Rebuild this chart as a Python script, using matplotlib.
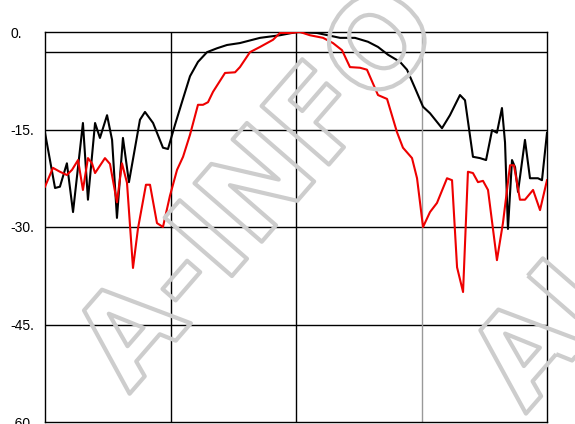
import matplotlib
matplotlib.use("Agg")

import matplotlib.pyplot as plt
import matplotlib.patheffects as pe

# angle (deg) / level (dB)
black_ang = [-180, -172.8, -169.3, -164.3, -159.9, -152.8, -149.2, -144.1, -140.6, -135.5,
             -131.9, -128.4, -124.1, -119.8, -111.9, -108.3, -102.5, -95.4, -91.8, -86.8,
             -81.8, -76.0, -70.3, -63.8, -56.6, -49.5, -40.2, -25.8, -11.5, 0.7,
             15.1, 31.6, 42.3, 51.6, 58.8, 66.0, 74.6, 79.6, 85.3, 91.1,
             96.1, 104.7, 110.4, 117.6, 121.2, 126.9, 131.9, 136.3, 140.6, 144.1,
             147.7, 149.9, 152.0, 154.9, 157.1, 159.2, 164.2, 167.8, 173.5, 176.4, 180]
black_db = [-15.5, -24.0, -23.8, -20.2, -27.7, -14.0, -25.8, -14.0, -16.3, -12.8,
            -16.6, -28.6, -16.3, -23.1, -13.5, -12.3, -14.0, -17.8, -18.0, -14.3,
            -10.8, -6.8, -4.6, -3.1, -2.5, -2.0, -1.7, -0.9, -0.5, 0.0,
            -0.15, -0.9, -0.9, -1.5, -2.3, -3.5, -4.6, -5.8, -8.6, -11.5,
            -12.5, -14.8, -12.8, -9.7, -10.5, -19.2, -19.4, -19.7, -15.1, -15.5,
            -11.7, -17.0, -30.3, -19.7, -20.8, -24.6, -16.6, -22.5, -22.5, -22.8, -15.5]

red_ang = [-180, -174.3, -169.3, -164.3, -160.6, -156.3, -152.8, -149.2, -146.3, -144.1,
           -137.0, -133.4, -128.4, -124.8, -121.2, -116.9, -113.3, -107.6, -104.7, -99.7,
           -95.4, -90.4, -85.3, -81.0, -76.0, -70.3, -66.7, -63.1, -59.5, -50.9,
           -43.7, -40.2, -33.0, -25.8, -16.5, -11.5, -4.3, 2.9, 10.0, 19.4,
           26.5, 33.0, 38.7, 45.9, 50.9, 58.8, 65.3, 72.4, 76.7, 83.2,
           86.8, 91.1, 96.1, 101.1, 108.3, 111.9, 115.5, 119.8, 123.3, 126.9,
           130.5, 134.1, 137.7, 144.1, 148.4, 153.5, 156.3, 160.6, 164.2, 170.0, 175.0, 180]
red_db = [-23.8, -20.9, -21.5, -22.0, -21.2, -19.7, -24.3, -19.4, -20.2, -21.7,
          -19.4, -20.3, -26.2, -20.2, -23.2, -36.3, -30.2, -23.5, -23.5, -29.4,
          -30.0, -25.2, -21.2, -19.2, -15.8, -11.2, -11.2, -10.8, -9.2, -6.3,
          -6.2, -5.4, -3.1, -2.3, -1.2, -0.15, -0.15, 0.0, -0.5, -0.9,
          -1.7, -2.8, -5.4, -5.5, -5.8, -9.7, -10.3, -15.4, -17.8, -19.4,
          -22.5, -30.0, -27.7, -26.3, -22.5, -22.8, -36.2, -40.0, -21.5, -21.7,
          -23.1, -22.9, -24.3, -35.1, -29.4, -20.5, -20.5, -25.8, -25.8, -24.3, -27.4, -22.8]

y_ticks = [0, -15, -30, -45, -60]
y_labels = ["0.", "-15.", "-30.", "-45.", "-60."]
ref_level = -3
x_grid = [-90, 0, 90]

fig = plt.figure(figsize=(5.75, 4.24), dpi=100)
ax = fig.add_axes([45 / 575, 1 - 422 / 424, 502 / 575, 390 / 424])

# watermark (outlined, light grey)
wm = dict(color="none", fontsize=88, fontweight="bold", family="DejaVu Sans",
          rotation=49, ha="center", va="center", zorder=0,
          path_effects=[pe.withStroke(linewidth=3, foreground="#cdcdcd")])
fig.text(0.455, 0.55, "A-INFO", **wm)
fig.text(0.95, 0.20, "AI", **wm)

ax.set_xlim(-180, 180)
ax.set_ylim(-60, 0)
ax.patch.set_alpha(0)

for h in y_ticks[1:-1]:
    ax.axhline(h, color="black", lw=1.0, zorder=1)
ax.axhline(ref_level, color="black", lw=1.0, zorder=1)
for v in x_grid:
    c = "#999999" if v == 90 else "black"
    ax.axvline(v, color=c, lw=1.0, zorder=1)

ax.plot(black_ang, black_db, color="black", lw=1.5, zorder=3)
ax.plot(red_ang, red_db, color="#ee0000", lw=1.5, zorder=4)

ax.set_xticks([])
ax.set_yticks(y_ticks)
ax.set_yticklabels(y_labels, family="Liberation Sans", fontsize=10)
ax.tick_params(axis="y", length=0, pad=25)
for lab in ax.get_yticklabels():
    lab.set_ha("left")

for s in ax.spines.values():
    s.set_color("black")
    s.set_linewidth(1.0)

fig.savefig("out.png", dpi=100, facecolor="white")
